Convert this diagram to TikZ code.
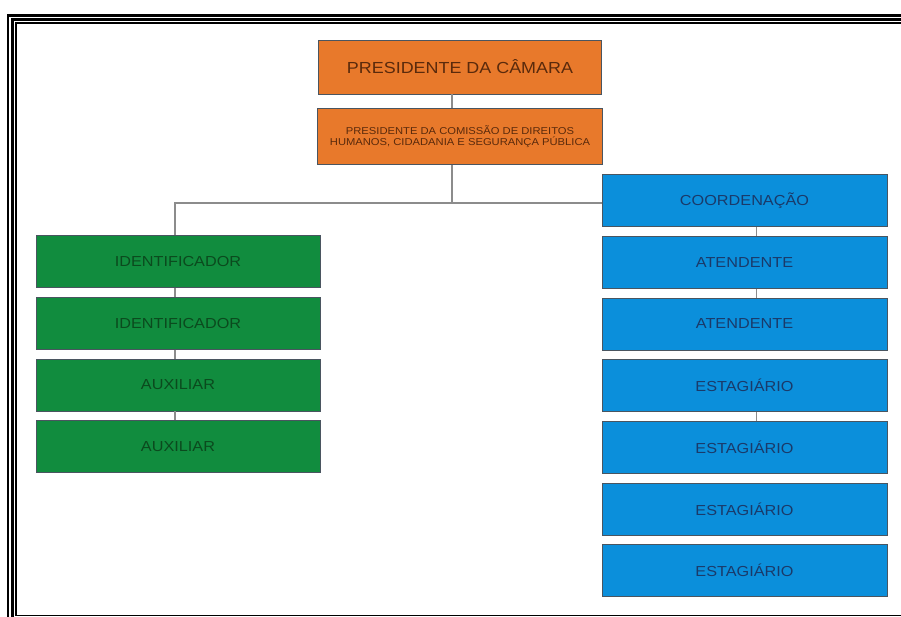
\documentclass[tikz,border=0pt]{standalone}
\usepackage{fontspec}
\setmainfont[FakeStretch=1.12]{Liberation Sans}
\definecolor{boxorange}{HTML}{E8792B}
\definecolor{boxgreen}{HTML}{118C3E}
\definecolor{boxblue}{HTML}{0B8FDB}
\definecolor{textorange}{HTML}{5A2A0C}
\definecolor{textgreen}{HTML}{0B4A1E}
\definecolor{textblue}{HTML}{1A3A6A}
\definecolor{boxedge}{HTML}{4A5560}
\definecolor{linegray}{HTML}{8C8C8C}

\begin{document}
\begin{tikzpicture}[
    x=1pt, y=1pt,
    node distance=61.7pt,
    box/.style={rectangle, draw=boxedge, line width=0.8pt, minimum width=284pt, minimum height=52pt, inner sep=0pt, align=center, font=\fontsize{14.5}{17}\selectfont},
    orangebox/.style={box, fill=boxorange, text=textorange},
    greenbox/.style={box, fill=boxgreen, text=textgreen},
    bluebox/.style={box, fill=boxblue, text=textblue, minimum width=285pt},
    conn/.style={draw=linegray, line width=1.4pt}
]
\useasboundingbox (0,0) rectangle (901,-617);

% Frame
\draw[line width=2.5pt] (8,-617) -- (8,-15.5) -- (901,-15.5);
\draw[line width=3pt] (12.5,-617) -- (12.5,-19.5) -- (901,-19.5);
\draw[line width=1.5pt] (901,-23) -- (16,-23) -- (16,-615.5) -- (901,-615.5);

% Top of the chart
\node[orangebox, minimum width=283pt, minimum height=54pt, font=\fontsize{16}{19}\selectfont] (presidente) at (460,-67) {PRESIDENTE DA CÂMARA};
\node[orangebox, minimum width=285pt, minimum height=56pt, font=\fontsize{10}{10.5}\selectfont, below of=presidente, node distance=69.5pt] (comissao) {PRESIDENTE DA COMISSÃO DE DIREITOS\\HUMANOS, CIDADANIA E SEGURANÇA PÚBLICA};

% Left column
\node[greenbox] (ident1) at (178,-261.5) {IDENTIFICADOR};
\node[greenbox, below of=ident1] (ident2) {IDENTIFICADOR};
\node[greenbox, below of=ident2] (aux1) {AUXILIAR};
\node[greenbox, below of=aux1] (aux2) {AUXILIAR};

% Right column
\node[bluebox] (coord) at (744.5,-200.5) {COORDENAÇÃO};
\node[bluebox, below of=coord] (atend1) {ATENDENTE};
\node[bluebox, below of=atend1] (atend2) {ATENDENTE};
\node[bluebox, below of=atend2] (estag1) {ESTAGIÁRIO};
\node[bluebox, below of=estag1] (estag2) {ESTAGIÁRIO};
\node[bluebox, below of=estag2] (estag3) {ESTAGIÁRIO};
\node[bluebox, below of=estag3] (estag4) {ESTAGIÁRIO};

% Connectors
\draw[conn] ([xshift=-8pt]presidente.south) -- ([xshift=-8pt]comissao.north);
\draw[conn] ([xshift=-8pt]comissao.south) -- ([xshift=-8pt,yshift=-2.5pt]comissao.south |- coord.west);
\draw[conn] ([xshift=-3pt]ident1.north) |- ([yshift=-2.5pt]coord.west);
\draw[conn] ([xshift=-3pt]ident1.south) -- ([xshift=-3pt]ident2.north);
\draw[conn] ([xshift=-3pt]ident2.south) -- ([xshift=-3pt]aux1.north);
\draw[conn] ([xshift=-3pt]aux1.south) -- ([xshift=-3pt]aux2.north);
\draw[conn] ([xshift=12pt]coord.south) -- ([xshift=12pt]atend1.north);
\draw[conn] ([xshift=12pt]atend1.south) -- ([xshift=12pt]atend2.north);
\draw[conn] ([xshift=12pt]estag1.south) -- ([xshift=12pt]estag2.north);

\end{tikzpicture}
\end{document}
